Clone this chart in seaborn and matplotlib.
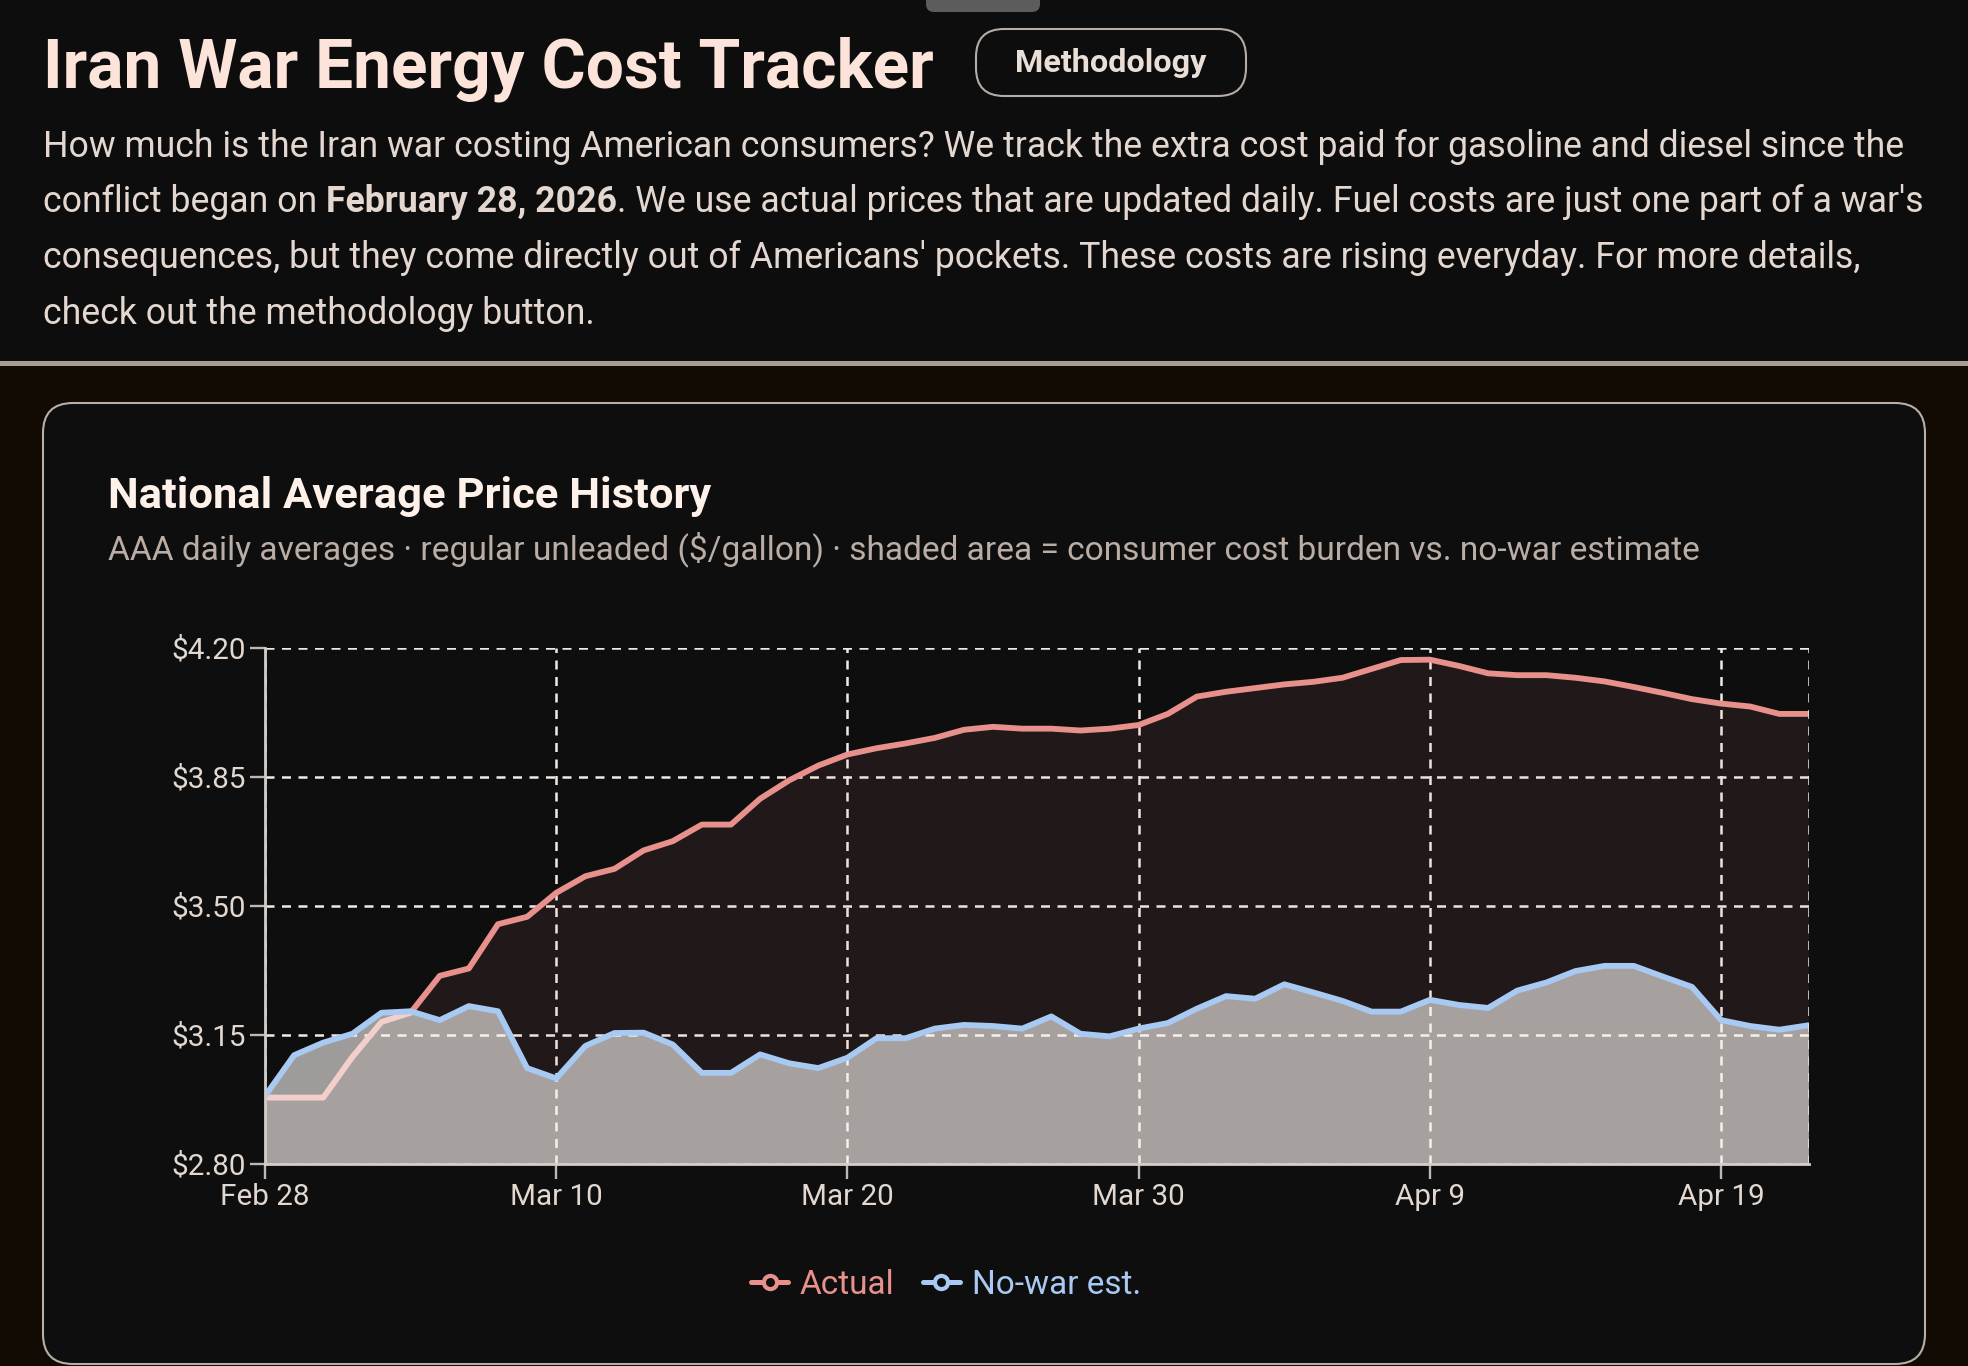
import matplotlib
matplotlib.use("Agg")
import matplotlib.pyplot as plt
import pandas as pd
import seaborn as sns
from matplotlib.lines import Line2D
from matplotlib.patches import FancyBboxPatch, Rectangle
from matplotlib.transforms import IdentityTransform

# ---- data ----
start_date = "2026-02-28"
n_days = 54
actual = [2.98, 2.98, 2.98, 3.09, 3.185, 3.21, 3.31, 3.33, 3.45, 3.47,
          3.535, 3.58, 3.60, 3.65, 3.675, 3.72, 3.72, 3.79, 3.84, 3.88,
          3.91, 3.927, 3.94, 3.955, 3.977, 3.985, 3.98, 3.98, 3.975, 3.98,
          3.99, 4.02, 4.067, 4.08, 4.09, 4.10, 4.107, 4.118, 4.142, 4.166,
          4.167, 4.15, 4.13, 4.125, 4.125, 4.118, 4.108, 4.093, 4.077, 4.06,
          4.048, 4.04, 4.02, 4.02]
no_war = [2.984, 3.095, 3.129, 3.153, 3.21, 3.214, 3.19, 3.228, 3.214, 3.06,
          3.032, 3.12, 3.155, 3.156, 3.124, 3.047, 3.047, 3.097, 3.073, 3.06,
          3.088, 3.141, 3.141, 3.167, 3.177, 3.174, 3.167, 3.20, 3.153, 3.146,
          3.167, 3.182, 3.221, 3.255, 3.248, 3.287, 3.265, 3.242, 3.213, 3.213,
          3.245, 3.231, 3.223, 3.27, 3.292, 3.323, 3.337, 3.337, 3.308, 3.28,
          3.19, 3.174, 3.164, 3.176]
x_ticks = ["2026-02-28", "2026-03-10", "2026-03-20", "2026-03-30", "2026-04-09", "2026-04-19"]
x_tick_labels = ["Feb 28", "Mar 10", "Mar 20", "Mar 30", "Apr 9", "Apr 19"]
y_ticks = [2.80, 3.15, 3.50, 3.85, 4.20]
y_tick_labels = ["$2.80", "$3.15", "$3.50", "$3.85", "$4.20"]
series_names = ["Actual", "No-war est."]

title = "Iran War Energy Cost Tracker"
intro_lines = [
    [("How much is the Iran war costing American consumers? We track the extra cost paid for gasoline and diesel since the", "normal")],
    [("conflict began on ", "normal"), ("February 28, 2026", "bold"),
     (". We use actual prices that are updated daily. Fuel costs are just one part of a war's", "normal")],
    [("consequences, but they come directly out of Americans' pockets. These costs are rising everyday. For more details,", "normal")],
    [("check out the methodology button.", "normal")],
]
card_title = "National Average Price History"
card_sub = "AAA daily averages \u00b7 regular unleaded ($/gallon) \u00b7 shaded area = consumer cost burden vs. no-war estimate"

df = pd.DataFrame({"date": pd.date_range(start_date, periods=n_days, freq="D"),
                   "actual": actual, "no_war": no_war})

# ---- style ----
RED = "#e8918c"
BLUE = "#a8c9f2"
CARD = "#0e0e0e"
sns.set_theme(style="ticks")
plt.rcParams["font.family"] = ["Roboto", "DejaVu Sans"]

W, H = 1968, 1366
fig = plt.figure(figsize=(W / 100, H / 100), dpi=100, facecolor="#120b04")


def fx(px):
    return px / W


def fy(py):
    return 1 - py / H


# header band, separator, drag handle
fig.patches.append(Rectangle((0, H - 361), W, 361, transform=IdentityTransform(),
                             facecolor="#0d0d0d", edgecolor="none", zorder=0))
fig.patches.append(Rectangle((0, H - 366), W, 5, transform=IdentityTransform(),
                             facecolor="#a99c93", edgecolor="none", zorder=0))
fig.patches.append(FancyBboxPatch((926, H - 12), 114, 22, boxstyle="round,pad=0,rounding_size=8",
                                  transform=IdentityTransform(), facecolor="#5c5c5c",
                                  edgecolor="none", zorder=1))
# card
fig.patches.append(FancyBboxPatch((43, 2), 1882, 961, boxstyle="round,pad=0,rounding_size=30",
                                  transform=IdentityTransform(), facecolor=CARD,
                                  edgecolor="#b8b0a8", linewidth=1.5, zorder=0))
# methodology button
fig.patches.append(FancyBboxPatch((976, H - 96), 270, 67, boxstyle="round,pad=0,rounding_size=28",
                                  transform=IdentityTransform(), facecolor="none",
                                  edgecolor="#b5aca5", linewidth=1.5, zorder=1))

fig.text(fx(43), fy(87), title, fontsize=48.7, fontweight="bold", color="#fde4da", va="baseline")
fig.text(fx(1111), fy(72), "Methodology", fontsize=23.3, fontweight="bold", color="#eadfd7",
         ha="center", va="baseline")

renderer = fig.canvas.get_renderer()
for i, parts in enumerate(intro_lines):
    x = fx(43)
    for txt, weight in parts:
        t = fig.text(x, fy(157 + i * 55.5), txt, fontsize=25.7, fontweight=weight,
                     color="#e3d7cf", va="baseline")
        x += t.get_window_extent(renderer=renderer).width / fig.bbox.width

fig.text(fx(108), fy(508), card_title, fontsize=31.3, fontweight="bold", color="#fdf1ea", va="baseline")
fig.text(fx(108), fy(559), card_sub, fontsize=24.1, color="#b9ada5", va="baseline")

# ---- chart ----
ax = fig.add_axes([fx(265), fy(1164), fx(1808.5) - fx(265), fy(647.5) - fy(1164)])
ax.set_zorder(2)
ax.set_facecolor(CARD)

ax.fill_between(df["date"], df["actual"], 2.80, color=RED, alpha=0.09, lw=0, zorder=2)
sns.lineplot(data=df, x="date", y="actual", color=RED, linewidth=4.2, ax=ax, zorder=3,
             solid_joinstyle="round", solid_capstyle="round")
ax.fill_between(df["date"], df["no_war"], 2.80, color="#fbf8f6", alpha=0.61, lw=0, zorder=4)
sns.lineplot(data=df, x="date", y="no_war", color=BLUE, linewidth=4.2, ax=ax, zorder=5,
             solid_joinstyle="round", solid_capstyle="round")

dash = (0, (3.6, 3))
ax.grid(True, color="#f2e9e3", linestyle=dash, linewidth=1.8, zorder=1)
ax.axvline(df["date"].iloc[-1], color="#f2e9e3", linestyle=dash, linewidth=1.8, zorder=6)
ax.set_axisbelow(True)

ax.set_xlim(df["date"].iloc[0], df["date"].iloc[-1])
ax.set_ylim(y_ticks[0], y_ticks[-1])
ax.set_xticks(pd.to_datetime(x_ticks))
ax.set_xticklabels(x_tick_labels)
ax.set_yticks(y_ticks)
ax.set_yticklabels(y_tick_labels)
ax.set_xlabel("")
ax.set_ylabel("")
ax.tick_params(axis="both", length=11, width=1.7, color="#bdb8b4", labelcolor="#e2d8d0",
               labelsize=21.3, pad=3)
for side in ("top", "right"):
    ax.spines[side].set_visible(False)
for side in ("left", "bottom"):
    ax.spines[side].set_color("#d2cdc9")
    ax.spines[side].set_linewidth(2)
    ax.spines[side].set_zorder(7)

handles = [Line2D([], [], color=c, lw=3.6, marker="o", markersize=9.5, markeredgewidth=3,
                  markerfacecolor=CARD, markeredgecolor=c) for c in (RED, BLUE)]
leg = fig.legend(handles, series_names, loc="center", bbox_to_anchor=(fx(946), fy(1285)),
                 ncol=2, frameon=False, fontsize=24, handlelength=1.1, handletextpad=0.36,
                 columnspacing=0.85)
for txt, c in zip(leg.get_texts(), (RED, BLUE)):
    txt.set_color(c)

fig.savefig("out.png", dpi=100, facecolor=fig.get_facecolor())
